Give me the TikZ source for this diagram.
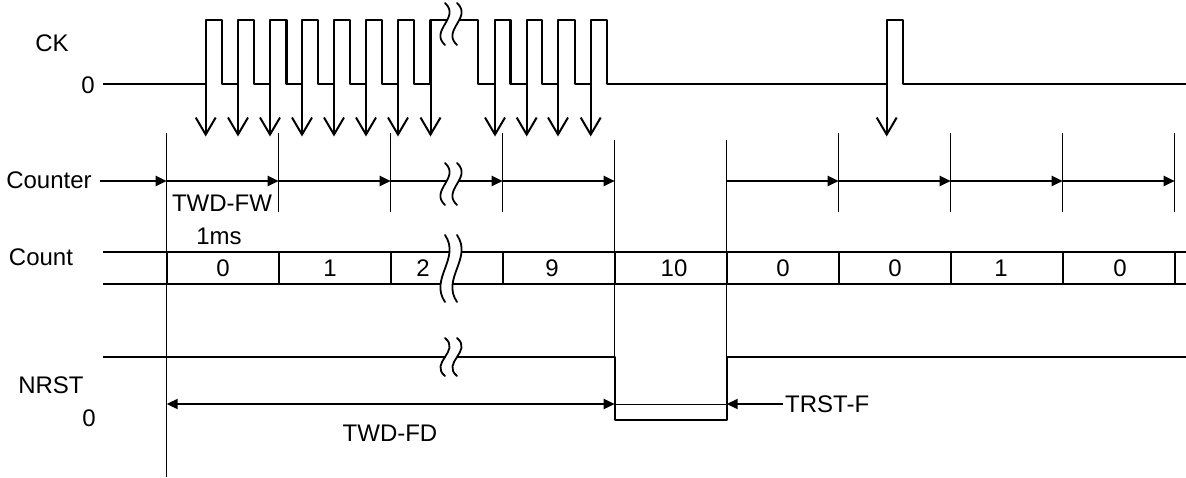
\documentclass[tikz,border=0pt]{standalone}
\usepackage{fontspec}
\setmainfont{Liberation Sans}
\usetikzlibrary{arrows.meta}
\newcommand\brkpair[3]{%
  \pgfmathsetmacro\bkA{#2+0.35*(#3-#2)}%
  \pgfmathsetmacro\bkB{#2+0.65*(#3-#2)}%
  \fill[white] (445,#2) .. controls (461,\bkA) and (429,\bkB) .. (445,#3) -- (457,#3)
     .. controls (441,\bkB) and (473,\bkA) .. (457,#2) -- cycle;
  \draw[brk] (445,#2) .. controls (461,\bkA) and (429,\bkB) .. (445,#3);
  \draw[brk] (457,#2) .. controls (473,\bkA) and (441,\bkB) .. (457,#3);
}
\begin{document}
\begin{tikzpicture}[x=1pt,y=-1pt,
  sig/.style={line width=2.2pt, line join=round},
  thinl/.style={line width=0.9pt},
  brk/.style={line width=1.8pt, line cap=round},
  clkarrow/.style={line width=2pt,-{Straight Barb[length=17pt,width=20pt,line width=2pt]}},
  cntarrow/.style={line width=2pt,-{Triangle[length=11pt,width=10pt]}},
  lbl/.style={font=\fontsize{24}{28}\selectfont, inner sep=0pt, anchor=center}]
\useasboundingbox (0,0) rectangle (1186,477);

% labels
\node[lbl] (ck) at (52,43) {CK};
\node[lbl] (ck0) at (88,85) {0};
\node[lbl] (counter) at (49,180) {Counter};
\node[lbl] (twdfw) at (222,203) {TWD-FW};
\node[lbl] (onems) at (219,236) {1ms};
\node[lbl] (count) at (41,257) {Count};
\node[lbl] (nrst) at (51,385) {NRST};
\node[lbl] (nrst0) at (89,418) {0};
\node[lbl] (twdfd) at (390,433) {TWD-FD};
\node[lbl,anchor=west] (trstf) at (785,404) {TRST-F};

% CK waveform
\draw[sig] (103,84) -- (205.7,84)
  -- (205.7,20) -- (222,20) -- (222,84) -- (238,84)
  -- (238,20) -- (254,20) -- (254,84) -- (270,84)
  -- (270,20) -- (286.5,20) -- (286.5,84) -- (302,84)
  -- (302,20) -- (318,20) -- (318,84) -- (334,84)
  -- (334,20) -- (350,20) -- (350,84) -- (366,84)
  -- (366,20) -- (382,20) -- (382,84) -- (398,84)
  -- (398,20) -- (414,20) -- (414,84) -- (430.5,84)
  -- (430.5,20) -- (478,20) -- (478,84) -- (495,84)
  -- (495,20) -- (510.5,20) -- (510.5,84) -- (526.7,84)
  -- (526.7,20) -- (542,20) -- (542,84) -- (558,84)
  -- (558,20) -- (575,20) -- (575,84) -- (590.7,84)
  -- (590.7,20) -- (607,20) -- (607,84) -- (886.7,84)
  -- (886.7,20) -- (902.7,20) -- (902.7,84) -- (1186,84);
\foreach \x in {205.7,238,270,302,334,366,398,430.5,495,526.7,558,590.7,886.7}
  \draw[clkarrow] (\x,84) -- (\x,136.5);
\brkpair{445}{3}{45}

% thin vertical time lines
\draw[thinl] (166.7,133) -- (166.7,477);
\foreach \x in {278.7,390.7,502.7,838.7,950.7,1062.7,1174.7}
  \draw[thinl] (\x,133) -- (\x,212);
\draw[thinl] (614.7,140) -- (614.7,420);
\draw[thinl] (726.7,140) -- (726.7,420);

% Counter arrows
\coordinate (cstart) at (100,181);
\draw[cntarrow] (cstart) -- (166.7,181);
\foreach \a/\b in {166.7/278.7,278.7/390.7,390.7/502.7,502.7/614.7,726.7/838.7,838.7/950.7,950.7/1062.7,1062.7/1174.7}
  \draw[cntarrow] (\a,181) -- (\b,181);
\brkpair{445}{163}{205}

% Count row
\draw[sig] (103,251.7) -- (1186,251.7);
\draw[sig] (103,284.3) -- (1186,284.3);
\foreach \x in {166.7,278.7,390.7,502.7,614.7,726.7,838.7,950.7,1062.7,1174.7}
  \draw[sig] (\x,251.7) -- (\x,284.3);
\foreach \x/\t in {223/0,330/1,423/2,552/9,674/10,783/0,895/0,1001/1,1120/0}
  \node[lbl] at (\x,268) {\t};
\brkpair{445}{235}{302}

% NRST
\draw[sig] (103,356.7) -- (614.7,356.7) -- (614.7,420) -- (726.7,420) -- (726.7,356.7) -- (1186,356.7);
\brkpair{445}{338}{376}

% TWD-FD and TRST-F
\draw[line width=2pt,{Triangle[length=11pt,width=10pt]}-{Triangle[length=11pt,width=10pt]}] (166.7,404) -- (614.7,404);
\draw[thinl] (614.7,404) -- (726.7,404);
\draw[cntarrow] (trstf.west) ++(-2,0) -- (726.7,404);
\end{tikzpicture}
\end{document}
